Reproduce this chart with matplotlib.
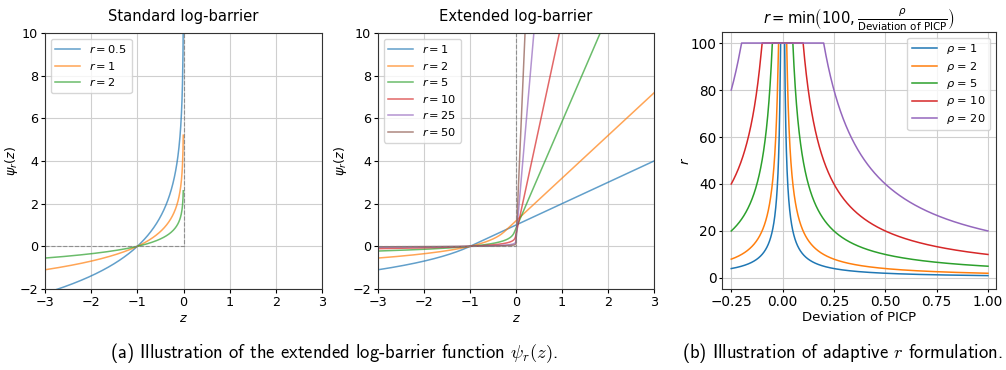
import numpy as np
import matplotlib
matplotlib.use("Agg")
import matplotlib.pyplot as plt

# ---- data ----
r_standard = [0.5, 1, 2]
r_extended = [1, 2, 5, 10, 25, 50]
rho_values = [1, 2, 5, 10, 20]
r_cap = 100
z_min, z_max = -3.0, 3.0
dev_min, dev_max = -0.25, 1.0

colors = ['#1f77b4', '#ff7f0e', '#2ca02c', '#d62728', '#9467bd', '#8c564b']

W, H = 1006, 370
fig = plt.figure(figsize=(W / 100, H / 100), dpi=100)

def box(l, r, t, b):
    return [l / W, 1 - b / H, (r - l) / W, (b - t) / H]

ax1 = fig.add_axes(box(45, 322, 33, 289))
ax2 = fig.add_axes(box(378, 654, 33, 289))
ax3 = fig.add_axes(box(722, 996, 32, 289))

tick_fs = 9.2
lab_fs = 9.2
title_fs = 10.6
leg_fs = 8.2

# ---- standard log-barrier ----
z_neg = np.linspace(z_min, 0, 550)[:-1]
for i, r in enumerate(r_standard):
    ax1.plot(z_neg, -np.log(-z_neg) / r, color=colors[i], alpha=0.7, lw=1.1,
             label=rf'$r = {r}$')
ax1.plot([z_min, 0, 0], [0, 0, 10], ls='--', color='gray', lw=0.8, alpha=0.8)

# ---- extended log-barrier ----
z_all = np.linspace(z_min, z_max, 3000)
def ext_barrier(z, r):
    thr = -1.0 / r ** 2
    out = np.empty_like(z)
    m = z <= thr
    out[m] = -np.log(-z[m]) / r
    out[~m] = r * z[~m] - np.log(1.0 / r ** 2) / r + 1.0 / r
    return out
for i, r in enumerate(r_extended):
    ax2.plot(z_all, ext_barrier(z_all, r), color=colors[i], alpha=0.7, lw=1.1,
             label=rf'$r = {r}$')
ax2.plot([z_min, 0, 0], [0, 0, 10], ls='--', color='gray', lw=0.8, alpha=0.8)

for ax, title in [(ax1, 'Standard log-barrier'), (ax2, 'Extended log-barrier')]:
    ax.set_xlim(z_min, z_max)
    ax.set_ylim(-2, 10)
    ax.set_xticks([-3, -2, -1, 0, 1, 2, 3])
    ax.set_yticks([-2, 0, 2, 4, 6, 8, 10])
    ax.set_xlabel(r'$z$', fontsize=lab_fs)
    ax.set_ylabel(r'$\psi_r(z)$', fontsize=lab_fs)
    ax.set_title(title, fontsize=title_fs, pad=9)
    ax.legend(loc='upper left', fontsize=leg_fs, handlelength=2.2,
              labelspacing=0.4)
    ax.tick_params(labelsize=tick_fs, length=3, width=0.8, pad=2)
ax1.yaxis.set_label_coords(-0.092, 0.5)
ax2.yaxis.set_label_coords(-0.105, 0.5)

# ---- adaptive r ----
dev = np.linspace(dev_min, dev_max, 2501)
with np.errstate(divide='ignore'):
    for i, rho in enumerate(rho_values):
        rr = np.minimum(r_cap, rho / np.abs(dev))
        ax3.plot(dev, rr, color=colors[i], lw=1.1, label=rf'$\rho$ = {rho}')
ax3.set_xlim(-0.295, 1.039)
ax3.set_ylim(-4.7, 104.7)
ax3.set_xticks([-0.25, 0, 0.25, 0.5, 0.75, 1.0])
ax3.set_xticklabels(['−0.25', '0.00', '0.25', '0.50', '0.75', '1.00'])
ax3.set_yticks([0, 20, 40, 60, 80, 100])
ax3.set_xlabel('Deviation of PICP', fontsize=9.5)
ax3.set_ylabel(r'$r$', fontsize=9.5)
ax3.yaxis.set_label_coords(-0.109, 0.5)
ax3.set_title(r'$r = \min\left(100, \frac{\rho}{\mathrm{Deviation\ of\ PICP}}\right)$',
              fontsize=title_fs, pad=6)
ax3.legend(loc='upper right', fontsize=leg_fs, handlelength=2.2,
           labelspacing=0.3)
ax3.tick_params(labelsize=9.8, length=2.5, width=0.8, pad=1.5)

for ax in (ax1, ax2, ax3):
    ax.grid(True, color='#cfcfcf', lw=0.8)
    ax.set_axisbelow(True)
    ax.xaxis.labelpad = 2
    for s in ax.spines.values():
        s.set_color('#333333')
        s.set_linewidth(0.8)

cap_kw = dict(fontsize=13.4, family='cmss10', math_fontfamily='cm',
              ha='center', va='center')
fig.text(334 / W, 1 - 353 / H,
         r'(a) Illustration of the extended log-barrier function $\psi_r(z)$.', **cap_kw)
fig.text(1003 / W, 1 - 353 / H,
         r'(b) Illustration of adaptive $r$ formulation.',
         **{**cap_kw, 'ha': 'right'})

fig.savefig('out.png', dpi=100)
